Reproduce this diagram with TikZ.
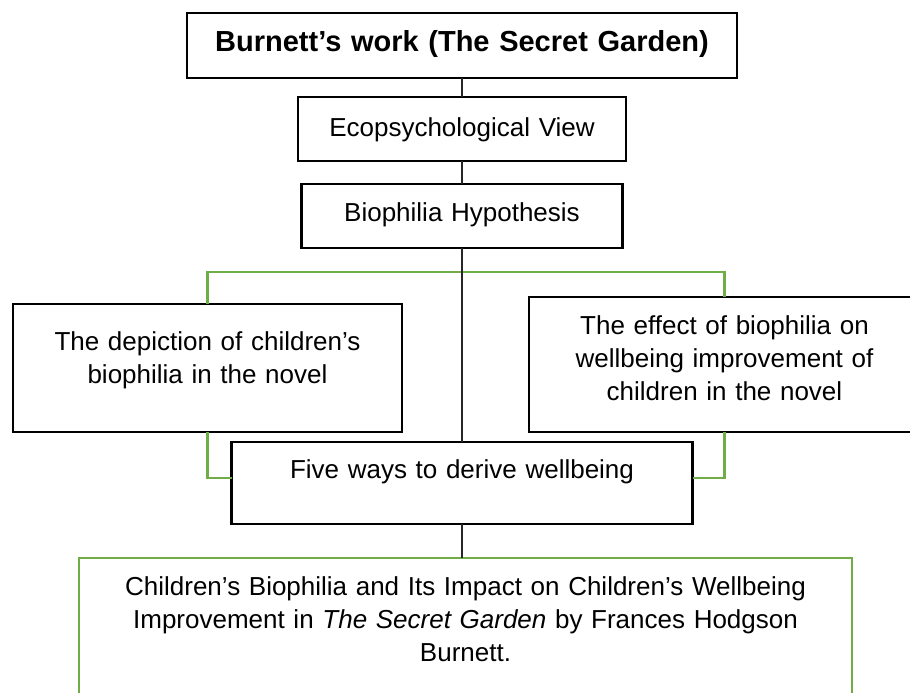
\documentclass[tikz,border=0pt]{standalone}
\usepackage{fontspec}
\setmainfont{Liberation Sans}
\usepackage{xcolor}
\definecolor{leafgreen}{HTML}{70AD47}
\usetikzlibrary{calc}

\begin{document}
\begin{tikzpicture}[x=1pt,y=-1pt,
		box/.style={draw=black,line width=2.2pt,fill=white,inner sep=0pt,outer sep=0pt,
			align=center,font=\fontsize{26}{33}\selectfont},
		greenbox/.style={box,draw=leafgreen,line width=2.6pt},
		link/.style={draw=black!85,line width=1.2pt},
		branch/.style={draw=leafgreen,line width=2.4pt}]
	\useasboundingbox (0,0) rectangle (910,693);
	
	% central column
	\node[box,anchor=north,text width=550pt,text height=39pt,text depth=26pt,
		font=\fontsize{29}{33}\selectfont\bfseries] (title) at (462,13) {Burnett’s work (The Secret Garden)};
	\node[box,anchor=north,text width=328pt,text height=39pt,text depth=25pt] (eco) at (462,97) {Ecopsychological View};
	\node[box,anchor=north,text width=321pt,text height=37pt,text depth=27pt] (bio) at (462,184) {Biophilia Hypothesis};
	
	% the two branches
	\node[box,anchor=north,text width=389pt,text height=46pt,text depth=82pt] (depict) at (207.5,304)
		{The depiction of children’s\\ biophilia in the novel};
	\node[box,anchor=north,text width=391pt,text height=37pt,text depth=98pt] (effect) at (724.5,297)
		{The effect of biophilia on\\ wellbeing improvement of\\ children in the novel};
	
	\node[box,anchor=north,text width=461pt,text height=36pt,text depth=46pt] (five) at (462,442) {Five ways to derive wellbeing};
	
	\node[greenbox,anchor=north,text width=773pt,text height=37pt,text depth=160pt] (result) at (465.5,558)
		{Children’s Biophilia and Its Impact on Children’s Wellbeing\\
		Improvement in \textit{The Secret Garden} by Frances Hodgson\\ Burnett.};
	
	\draw[branch] (depict.north) -- ++(0,-32) -| (effect.north);
	\draw[branch] (depict.south) |- ([yshift=5pt]five.west);
	\draw[branch] (effect.south) |- ([yshift=5pt]five.east);
	
	\draw[link] (title) -- (eco);
	\draw[link] (eco) -- (bio);
	\draw[link] (bio) -- (five);
	\draw[link] (five.south) -- (five.south |- result.north);
\end{tikzpicture}
\end{document}
